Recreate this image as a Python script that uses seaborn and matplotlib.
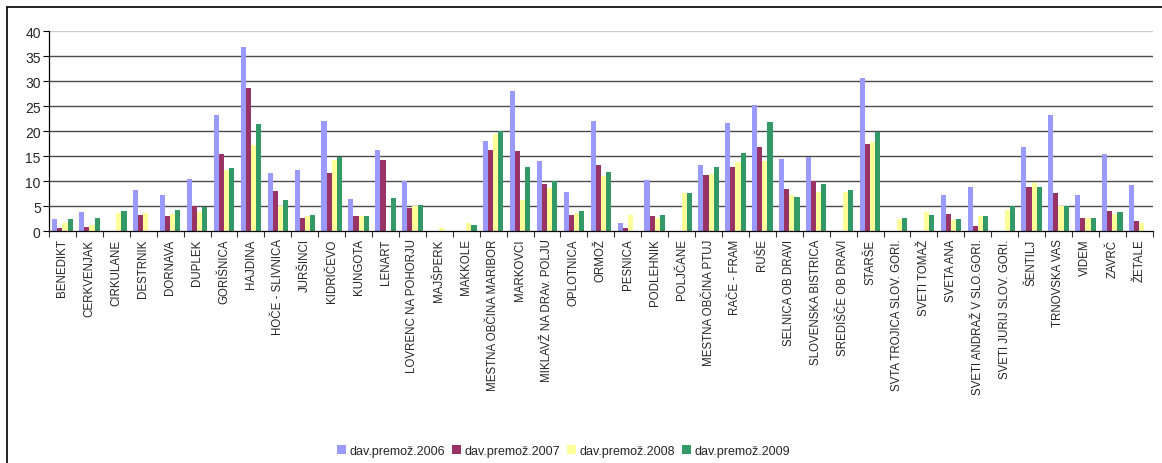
import numpy as np
import pandas as pd
import matplotlib
matplotlib.use("Agg")
import matplotlib.pyplot as plt
from matplotlib.lines import Line2D
import seaborn as sns

municipalities = [
    "BENEDIKT", "CERKVENJAK", "CIRKULANE", "DESTRNIK", "DORNAVA", "DUPLEK",
    "GORIŠNICA", "HAJDINA", "HOČE - SLIVNICA", "JURŠINCI", "KIDRIČEVO",
    "KUNGOTA", "LENART", "LOVRENC NA POHORJU", "MAJŠPERK", "MAKKOLE",
    "MESTNA OBČINA MARIBOR", "MARKOVCI", "MIKLAVŽ NA DRAv. POLJU", "OPLOTNICA",
    "ORMOŽ", "PESNICA", "PODLEHNIK", "POLJČANE", "MESTNA OBČINA PTUJ",
    "RAČE - FRAM", "RUŠE", "SELNICA OB DRAVI", "SLOVENSKA BISTRICA",
    "SREDIŠČE OB DRAVI", "STARŠE", "SVTA TROJICA SLOV. GORI.", "SVETI TOMAŽ",
    "SVETA ANA", "SVETI ANDRAŽ V SLO.GORI.", "SVETI JURIJ SLOV. GORI.",
    "ŠENTILJ", "TRNOVSKA VAS", "VIDEM", "ZAVRČ", "ŽETALE",
]

values_2006 = [2.5, 3.9, 0.0, 8.3, 7.3, 10.5, 23.3, 36.9, 11.7, 12.3, 22.1,
               6.5, 16.3, 10.1, 0.0, 0.0, 18.1, 28.1, 14.1, 7.9, 22.1, 1.7,
               10.3, 0.0, 13.3, 21.7, 25.3, 14.5, 14.9, 0.0, 30.7, 0.0, 0.0,
               7.3, 8.9, 0.0, 16.9, 23.3, 7.3, 15.5, 9.3]
values_2007 = [0.7, 0.9, 0.0, 3.3, 3.1, 5.1, 15.5, 28.7, 8.1, 2.7, 11.7,
               3.1, 14.3, 4.7, 0.0, 0.0, 16.3, 16.1, 9.5, 3.3, 13.3, 0.7,
               3.1, 0.0, 11.3, 12.9, 16.9, 8.5, 10.1, 0.0, 17.5, 0.0, 0.0,
               3.5, 1.1, 0.0, 8.9, 7.7, 2.7, 4.1, 2.1]
values_2008 = [1.7, 1.3, 3.7, 3.7, 3.5, 3.9, 12.3, 17.3, 5.1, 3.1, 14.3,
               3.1, 0.0, 5.1, 0.7, 1.7, 19.5, 6.3, 8.7, 3.7, 11.1, 3.3,
               2.7, 7.7, 11.5, 13.9, 14.1, 7.3, 7.9, 7.9, 17.9, 2.5, 3.9,
               2.3, 3.1, 4.3, 9.7, 5.1, 2.7, 3.5, 1.7]
values_2009 = [2.5, 2.7, 4.1, 0.1, 4.3, 4.9, 12.7, 21.5, 6.3, 3.3, 14.9,
               3.1, 6.7, 5.3, 0.1, 1.3, 20.1, 12.9, 10.1, 4.1, 11.9, 0.0,
               3.3, 7.7, 12.9, 15.7, 21.9, 6.9, 9.5, 8.3, 19.9, 2.7, 3.3,
               2.5, 3.1, 5.1, 8.9, 5.1, 2.7, 3.9, 0.0]

series_names = ["dav.premož.2006", "dav.premož.2007",
                "dav.premož.2008", "dav.premož.2009"]
series_colors = ["#9999FF", "#993366", "#FFFF99", "#339966"]

frames = []
for name, vals in zip(series_names,
                      [values_2006, values_2007, values_2008, values_2009]):
    frames.append(pd.DataFrame({"občina": municipalities,
                                "serija": name, "vrednost": vals}))
df = pd.concat(frames, ignore_index=True)

sns.set_style("white")
plt.rcParams["font.family"] = ["Liberation Sans", "DejaVu Sans"]

fig = plt.figure(figsize=(11.62, 4.64), dpi=100)
ax = fig.add_axes([0.0422, 0.499, 0.9498, 0.431])

sns.barplot(data=df, x="občina", y="vrednost", hue="serija",
            order=municipalities, hue_order=series_names,
            palette=series_colors, width=0.76, saturation=1,
            linewidth=0, errorbar=None, ax=ax, legend=False)

n = len(municipalities)
ax.set_xlim(-0.5, n - 0.5)
ax.set_ylim(0, 40)
ax.set_yticks(np.arange(0, 41, 5))
ax.tick_params(axis="y", labelsize=10, length=4, width=0.8,
               color="black", pad=2, left=True)
ax.set_xlabel("")
ax.set_ylabel("")

# category labels without marks; marks between categories
ax.set_xticks(np.arange(n))
ax.set_xticklabels(municipalities, rotation=90, fontsize=8.3,
                   ha="center", va="top")
ax.tick_params(axis="x", which="major", length=0, pad=5)
ax.set_xticks(np.arange(-0.5, n, 1), minor=True)
ax.tick_params(axis="x", which="minor", length=4, width=0.8,
               color="#333333", bottom=True)

# horizontal gridlines
for v in range(5, 40, 5):
    ax.axhline(v, color="#4a4a4a", lw=1.0, zorder=0)
ax.axhline(40, color="#cccccc", lw=1.0, zorder=0)

for side in ["top", "right"]:
    ax.spines[side].set_visible(False)
for side in ["left", "bottom"]:
    ax.spines[side].set_color("black")
    ax.spines[side].set_linewidth(0.9)

# legend along the bottom
from matplotlib.patches import Patch
handles = [Patch(facecolor=c, edgecolor="none") for c in series_colors]
fig.legend(handles, series_names, loc="center", ncol=4,
           bbox_to_anchor=(0.485, 0.026), frameon=False, fontsize=9,
           handlelength=0.75, handleheight=0.75, handletextpad=0.3,
           columnspacing=0.5, borderaxespad=0)

# outer frame lines (top and left)
fig.add_artist(Line2D([7 / 1162, 1.0], [1 - 7.5 / 464, 1 - 7.5 / 464],
                      color="black", lw=1.2, transform=fig.transFigure))
fig.add_artist(Line2D([7 / 1162, 7 / 1162], [0, 1 - 7.5 / 464],
                      color="black", lw=1.2, transform=fig.transFigure))

fig.savefig("out.png", dpi=100)
